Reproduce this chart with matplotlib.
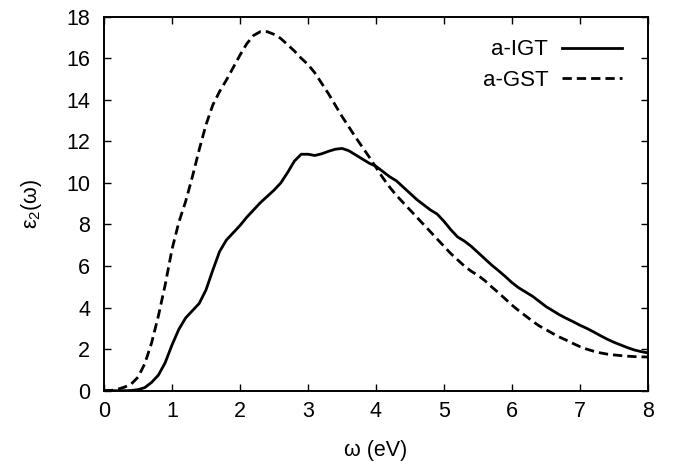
import numpy as np
import matplotlib
matplotlib.use("Agg")
import matplotlib.pyplot as plt

plt.rcParams['font.family'] = ['Liberation Sans', 'DejaVu Sans']
plt.rcParams['mathtext.fontset'] = 'custom'
plt.rcParams['mathtext.rm'] = 'Liberation Sans'
plt.rcParams['mathtext.it'] = 'Liberation Sans'

# imaginary part of the dielectric function, eps2(omega)
omega_igt = [0.0, 0.3, 0.4, 0.5, 0.6, 0.7, 0.8, 0.9, 1.0, 1.1, 1.2, 1.3, 1.4,
             1.5, 1.6, 1.7, 1.8, 1.9, 2.0, 2.1, 2.2, 2.3, 2.4, 2.5, 2.6, 2.7,
             2.8, 2.9, 3.0, 3.1, 3.2, 3.3, 3.4, 3.5, 3.6, 3.7, 3.8, 3.9, 4.0,
             4.1, 4.2, 4.3, 4.4, 4.5, 4.6, 4.7, 4.8, 4.9, 5.0, 5.1, 5.2, 5.3,
             5.4, 5.5, 5.6, 5.7, 5.8, 5.9, 6.0, 6.1, 6.2, 6.3, 6.4, 6.5, 6.6,
             6.7, 6.8, 6.9, 7.0, 7.1, 7.2, 7.3, 7.4, 7.5, 7.6, 7.7, 7.8, 7.9, 8.0]
eps2_igt = [0.0, 0.0, 0.01, 0.05, 0.15, 0.4, 0.75, 1.35, 2.2, 2.95, 3.5, 3.85, 4.2,
            4.85, 5.8, 6.7, 7.25, 7.6, 7.95, 8.35, 8.7, 9.05, 9.35, 9.65, 10.0, 10.5,
            11.05, 11.38, 11.38, 11.32, 11.4, 11.52, 11.62, 11.66, 11.55, 11.35, 11.15, 10.95, 10.8,
            10.55, 10.3, 10.1, 9.8, 9.5, 9.2, 8.95, 8.7, 8.5, 8.15, 7.75, 7.4, 7.2,
            6.95, 6.65, 6.35, 6.05, 5.78, 5.5, 5.2, 4.95, 4.75, 4.55, 4.3, 4.05, 3.85,
            3.65, 3.48, 3.32, 3.15, 3.0, 2.83, 2.65, 2.48, 2.33, 2.2, 2.07, 1.96, 1.88, 1.82]

omega_gst = [0.0, 0.1, 0.2, 0.3, 0.4, 0.5, 0.6, 0.7, 0.8, 0.9, 1.0, 1.1, 1.2,
             1.3, 1.4, 1.5, 1.6, 1.7, 1.8, 1.9, 2.0, 2.1, 2.2, 2.3, 2.4, 2.5,
             2.6, 2.7, 2.8, 2.9, 3.0, 3.1, 3.2, 3.3, 3.4, 3.5, 3.6, 3.7, 3.8,
             3.9, 4.0, 4.1, 4.2, 4.3, 4.4, 4.5, 4.6, 4.7, 4.8, 4.9, 5.0, 5.1,
             5.2, 5.3, 5.4, 5.5, 5.6, 5.7, 5.8, 5.9, 6.0, 6.1, 6.2, 6.3, 6.4,
             6.5, 6.6, 6.7, 6.8, 6.9, 7.0, 7.1, 7.2, 7.3, 7.4, 7.5, 7.6, 7.7,
             7.8, 7.9, 8.0]
eps2_gst = [0.0, 0.01, 0.07, 0.17, 0.32, 0.65, 1.3, 2.3, 3.6, 5.1, 6.8, 8.1, 9.1,
            10.3, 11.6, 12.8, 13.75, 14.4, 14.95, 15.55, 16.15, 16.7, 17.1, 17.28, 17.28, 17.15,
            16.95, 16.65, 16.35, 16.0, 15.7, 15.3, 14.8, 14.3, 13.75, 13.2, 12.7, 12.2, 11.72,
            11.25, 10.75, 10.25, 9.8, 9.4, 9.05, 8.7, 8.35, 8.0, 7.65, 7.3, 6.95, 6.6,
            6.3, 6.0, 5.75, 5.55, 5.3, 5.0, 4.72, 4.42, 4.12, 3.85, 3.6, 3.35, 3.12,
            2.94, 2.75, 2.58, 2.43, 2.27, 2.12, 2.0, 1.9, 1.82, 1.76, 1.72, 1.69, 1.66,
            1.64, 1.63, 1.62]

x_ticks = np.arange(0, 9, 1)
y_ticks = np.arange(0, 19, 2)

fig = plt.figure(figsize=(6.74, 4.61), dpi=100)
ax = fig.add_axes([0.1543, 0.1525, 0.8071, 0.8113])

ax.plot(omega_igt, eps2_igt, color='black', lw=2.0, label='a-IGT')
ax.plot(omega_gst, eps2_gst, color='black', lw=2.0, dashes=(3.35, 1.8), label='a-GST')

ax.set_xlim(0, 8)
ax.set_ylim(0, 18)
ax.set_xticks(x_ticks)
ax.set_yticks(y_ticks)
ax.tick_params(direction='in', length=5, width=1, labelsize=15.5,
               top=True, right=True)
ax.tick_params(axis='x', pad=7.5)
ax.tick_params(axis='y', pad=10)
for sp in ax.spines.values():
    sp.set_linewidth(1.4)

ax.set_xlabel('ω (eV)', fontsize=15.5, labelpad=13)
ax.set_ylabel('ε$_2$(ω)', fontsize=15.5, labelpad=16)

ax.legend(loc='upper right', bbox_to_anchor=(0.968, 0.963), borderaxespad=0,
          frameon=False, markerfirst=False, fontsize=16,
          handlelength=2.7, handletextpad=0.6, labelspacing=0.43)

fig.savefig('out.png', dpi=100)
